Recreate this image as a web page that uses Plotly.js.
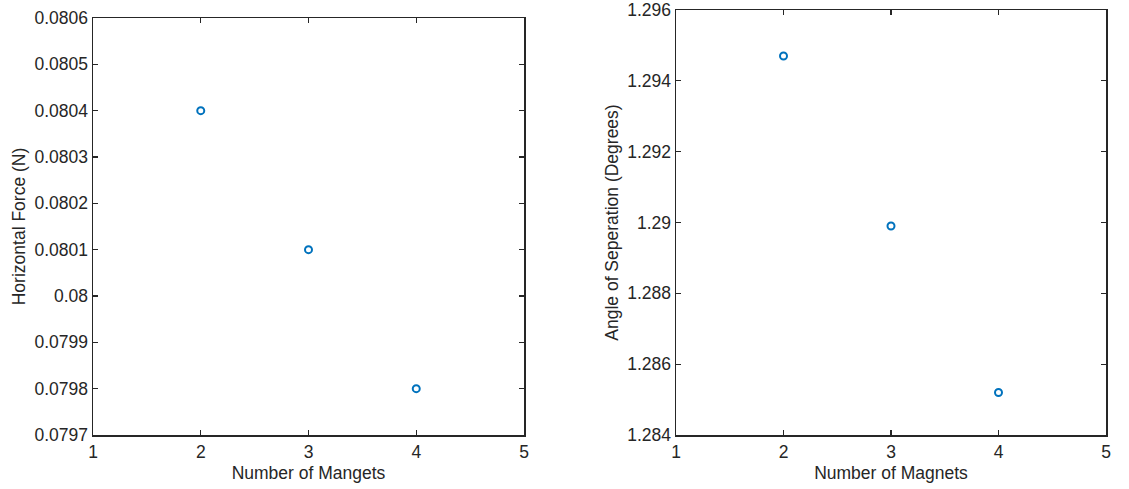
<!DOCTYPE html>
<html><head><meta charset="utf-8">
<script src="https://cdn.plot.ly/plotly-3.0.1.min.js"></script>
<style>html,body{margin:0;padding:0;background:#fff}#chart{width:1129px;height:489px}</style>
</head><body><div id="chart"></div>
<script>
const magnets = [2, 3, 4];
const horizontalForce = [0.0804, 0.0801, 0.0798];
const angleSeparation = [1.2947, 1.2899, 1.2852];
const xTicks = [1, 2, 3, 4, 5];
const forceTickVals = [0.0797, 0.0798, 0.0799, 0.08, 0.0801, 0.0802, 0.0803, 0.0804, 0.0805, 0.0806];
const forceTickText = ['0.0797', '0.0798', '0.0799', '0.08', '0.0801', '0.0802', '0.0803', '0.0804', '0.0805', '0.0806'];
const angleTickVals = [1.284, 1.286, 1.288, 1.29, 1.292, 1.294, 1.296];
const angleTickText = ['1.284', '1.286', '1.288', '1.29', '1.292', '1.294', '1.296'];

const dark = '#262626';
const fontFam = '"Liberation Sans", Arial, sans-serif';
const fs = 17.5;
const marker = {symbol: 'circle-open', size: 7, color: '#0072BD', line: {width: 2, color: '#0072BD'}};

const xBase = {range: [1, 5], tickvals: xTicks, ticktext: xTicks.map(String), ticks: 'inside', ticklen: 5, tickwidth: 1.2, tickcolor: dark,
  showline: true, linecolor: dark, linewidth: 1.5, mirror: 'ticks', showgrid: false, zeroline: false,
  tickfont: {size: fs, color: dark, family: fontFam}};
const yBase = {ticks: 'inside', ticklen: 5, tickwidth: 1.2, tickcolor: dark, showline: true, linecolor: dark, linewidth: 1.5,
  mirror: 'ticks', showgrid: false, zeroline: false, tickfont: {size: fs, color: dark, family: fontFam}};

const data = [
  {x: magnets, y: horizontalForce, type: 'scatter', mode: 'markers', marker: marker, xaxis: 'x', yaxis: 'y', hoverinfo: 'x+y'},
  {x: magnets, y: angleSeparation, type: 'scatter', mode: 'markers', marker: marker, xaxis: 'x2', yaxis: 'y2', hoverinfo: 'x+y'}
];

const layout = {
  width: 1129, height: 489, showlegend: false,
  paper_bgcolor: '#fff', plot_bgcolor: '#fff',
  margin: {l: 0, r: 0, t: 0, b: 0},
  font: {family: fontFam, color: dark},
  xaxis: Object.assign({}, xBase, {domain: [93/1129, 524/1129], anchor: 'y',
    title: {text: 'Number of Mangets', font: {size: fs, color: dark}, standoff: 6}}),
  yaxis: Object.assign({}, yBase, {domain: [1 - 435/489, 1 - 18/489], anchor: 'x', range: [0.0797, 0.0806],
    tickvals: forceTickVals, ticktext: forceTickText,
    title: {text: 'Horizontal Force (N)', font: {size: fs, color: dark}, standoff: 4}}),
  xaxis2: Object.assign({}, xBase, {domain: [676/1129, 1106/1129], anchor: 'y2',
    title: {text: 'Number of Magnets', font: {size: fs, color: dark}, standoff: 6}}),
  yaxis2: Object.assign({}, yBase, {domain: [1 - 435/489, 1 - 10/489], anchor: 'x2', range: [1.284, 1.296],
    tickvals: angleTickVals, ticktext: angleTickText,
    title: {text: 'Angle of Seperation (Degrees)', font: {size: fs, color: dark}, standoff: 4}})
};

Plotly.newPlot('chart', data, layout, {displayModeBar: false, staticPlot: true});
</script></body></html>
